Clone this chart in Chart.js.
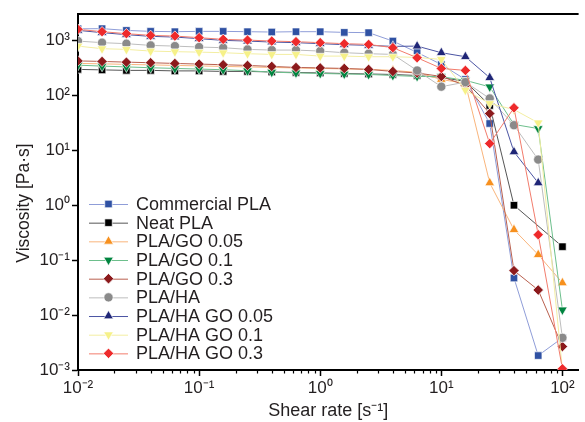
<!DOCTYPE html>
<html>
<head>
<meta charset="utf-8">
<script src="https://cdn.jsdelivr.net/npm/chart.js@4/dist/chart.umd.min.js"></script>
<style>
  html, body { margin: 0; padding: 0; background: #ffffff; }
  #wrap { width: 585px; height: 422px; }
</style>
</head>
<body>
<div id="wrap"><canvas id="chart" width="585" height="422"></canvas></div>
<script>
// Shear rate sweep: 5 points per decade, 0.01 to 100 1/s
const shearRate = [0.01, 0.0158, 0.0251, 0.0398, 0.0631, 0.1, 0.158, 0.251, 0.398, 0.631,
                   1, 1.58, 2.51, 3.98, 6.31, 10, 15.8, 25.1, 39.8, 63.1, 100];

// Viscosity [Pa·s] for each sample
const commercialPLA = [1600, 1615, 1500, 1440, 1420, 1440, 1440, 1420, 1400, 1420, 1420, 1380, 1365, 959, 597, 360, 192, 30.4, 0.047, 0.00183, 0.00385];
const neatPLA       = [293, 287, 281, 281, 275, 275, 269, 269, 263, 258, 253, 247, 242, 237, 227, 209, 177, 64.7, 0.99, null, 0.175];
const plaGO005      = [376, 370, 361, 354, 346, 339, 332, 325, 318, 311, 305, 299, 293, 281, 258, 192, 163, 2.53, 0.356, 0.125, 0.0384];
const plaGO01       = [350, 336, 325, 314, 305, 297, 289, 277, 261, 253, 247, 242, 237, 227, 218, 216, 185, 141, 29.2, 24.6, 0.0124];
const plaGO03       = [418, 409, 397, 387, 376, 366, 356, 346, 332, 318, 312, 305, 293, 269, 252, 218, 150, 46.2, 0.0642, 0.0285, 0.00267];
const plaHA         = [959, 897, 860, 800, 777, 746, 727, 677, 658, 658, 631, 589, 565, 549, 280, 142, 172, 86.7, 28.3, 6.71, 0.00385];
const plaHAGO005    = [1502, 1364, 1254, 1168, 1134, 1061, 987, 959, 920, 897, 860, 825, 801, 768, 777, 589, 498, 207, 9.27, 2.53, null];
const plaHAGO01     = [777, 697, 677, 631, 615, 604, 589, 565, 549, 549, 511, 511, 498, 498, 484, 445, 123, 70.3, 54.5, 31.3, 0.001];
const plaHAGO03     = [1567, 1422, 1308, 1218, 1183, 1106, 1030, 1000, 959, 935, 897, 860, 835, 727, 478, 305, 281, 13.1, 58.7, 0.289, 0.00105];

const seriesNames = ['Commercial PLA', 'Neat PLA', 'PLA/GO 0.05', 'PLA/GO 0.1', 'PLA/GO 0.3',
                     'PLA/HA', 'PLA/HA GO 0.05', 'PLA/HA GO 0.1', 'PLA/HA GO 0.3'];
const seriesValues = [commercialPLA, neatPLA, plaGO005, plaGO01, plaGO03,
                      plaHA, plaHAGO005, plaHAGO01, plaHAGO03];

// Axis ticks
const xTickValues = [0.01, 0.1, 1, 10, 100];
const xTickLabels = ['10\u207B\u00B2', '10\u207B\u00B9', '10\u2070', '10\u00B9', '10\u00B2'];
const yTickValues = [0.001, 0.01, 0.1, 1, 10, 100, 1000];
const yTickLabels = ['10\u207B\u00B3', '10\u207B\u00B2', '10\u207B\u00B9', '10\u2070', '10\u00B9', '10\u00B2', '10\u00B3'];
const yTitle = 'Viscosity [Pa\u00B7s]';
const xTitle = 'Shear rate [s\u207B\u00B9]';

const FONT = "'Liberation Sans', Arial, Helvetica, sans-serif";
const TEXT = '#231F20';

// marker fill, connecting line colour, marker shape
const looks = [
  { fill: '#2F51A3', line: '#8F9DD8', shape: 'rect',     rot: 0,   r: 5.3 },
  { fill: '#000000', line: '#555555', shape: 'rect',     rot: 0,   r: 5.3 },
  { fill: '#F7901E', line: '#F9B57C', shape: 'triangle', rot: 0,   r: 5.6 },
  { fill: '#00843F', line: '#6DBF8C', shape: 'triangle', rot: 180, r: 5.6 },
  { fill: '#8C1A1C', line: '#B9604F', shape: 'rectRot',  rot: 0,   r: 5.2 },
  { fill: '#8A8A8A', line: '#BDBDBD', shape: 'circle',   rot: 0,   r: 4.6 },
  { fill: '#1F2677', line: '#4B54A3', shape: 'triangle', rot: 0,   r: 5.6 },
  { fill: '#F6F189', line: '#F3EEA2', shape: 'triangle', rot: 180, r: 5.6 },
  { fill: '#EE2A2B', line: '#F27C6C', shape: 'rectRot',  rot: 0,   r: 5.2 }
];

const datasets = seriesValues.map((vals, k) => ({
  label: seriesNames[k],
  data: vals.map((v, i) => ({ x: shearRate[i], y: v })),
  borderColor: looks[k].line,
  borderWidth: 1,
  backgroundColor: looks[k].fill,
  pointBackgroundColor: looks[k].fill,
  pointBorderColor: 'rgba(255,255,255,0.85)',
  pointBorderWidth: 0.8,
  pointStyle: looks[k].shape,
  pointRotation: looks[k].rot,
  pointRadius: looks[k].r,
  pointHoverRadius: looks[k].r,
  spanGaps: true,
  tension: 0,
  clip: 0,
  order: seriesNames.length - 1 - k
}));

// Minor ticks on the shear-rate axis, the top frame line and the vertical axis title
const framePlugin = {
  id: 'frame',
  afterDraw(chart) {
    const { ctx, chartArea } = chart;
    const xs = chart.scales.x;
    ctx.save();
    ctx.strokeStyle = '#000';
    ctx.lineWidth = 1.2;
    for (let d = -2; d <= 2; d++) {
      for (let m = 2; m <= 9; m++) {
        const v = m * Math.pow(10, d);
        if (v < xs.min || v > xs.max) continue;
        const px = Math.round(xs.getPixelForValue(v)) + 0.5;
        ctx.beginPath();
        ctx.moveTo(px, chartArea.bottom);
        ctx.lineTo(px, chartArea.bottom + 3.5);
        ctx.stroke();
      }
    }
    ctx.lineWidth = 2;
    ctx.beginPath();
    ctx.moveTo(chartArea.left - 1, chartArea.top);
    ctx.lineTo(chartArea.right, chartArea.top);
    ctx.stroke();

    ctx.translate(24, 203);
    ctx.rotate(-Math.PI / 2);
    ctx.fillStyle = TEXT;
    ctx.font = '17.5px ' + FONT;
    ctx.textAlign = 'center';
    ctx.textBaseline = 'middle';
    ctx.fillText(yTitle, 0, 0);
    ctx.restore();
  }
};

// Legend inside the plot: a short line with the marker in its middle
const legendPlugin = {
  id: 'innerLegend',
  afterDraw(chart) {
    const { ctx } = chart;
    const x0 = 89, x1 = 128, xm = 108.5, xt = 136, y0 = 204, step = 18.67;
    ctx.save();
    chart.data.datasets.forEach((ds, k) => {
      const y = y0 + k * step;
      ctx.strokeStyle = ds.borderColor;
      ctx.lineWidth = 1;
      ctx.beginPath();
      ctx.moveTo(x0, y + 0.5);
      ctx.lineTo(x1, y + 0.5);
      ctx.stroke();
      ctx.fillStyle = ds.pointBackgroundColor;
      ctx.strokeStyle = ds.pointBorderColor;
      ctx.lineWidth = ds.pointBorderWidth;
      Chart.helpers.drawPoint(ctx, {
        pointStyle: ds.pointStyle,
        rotation: ds.pointRotation,
        radius: ds.pointRadius,
        borderWidth: ds.pointBorderWidth
      }, xm, y);
      ctx.fillStyle = TEXT;
      ctx.font = '18px ' + FONT;
      ctx.textAlign = 'left';
      ctx.textBaseline = 'middle';
      ctx.fillText(ds.label, xt, y + 1);
    });
    ctx.restore();
  }
};

new Chart(document.getElementById('chart'), {
  type: 'line',
  data: { datasets },
  plugins: [framePlugin, legendPlugin],
  options: {
    responsive: false,
    animation: false,
    devicePixelRatio: 1,
    layout: { padding: { top: 14, right: 0, left: 0, bottom: 0 } },
    plugins: { legend: { display: false }, tooltip: { enabled: false } },
    scales: {
      x: {
        type: 'logarithmic',
        position: 'bottom',
        min: 0.01,
        max: 136,
        afterBuildTicks: s => { s.ticks = xTickValues.map(v => ({ value: v, major: true })); },
        afterFit: s => { s.height = 52; },
        ticks: {
          callback: (v, i) => xTickLabels[i],
          font: { family: FONT, size: 17 },
          color: TEXT,
          padding: 2,
          maxRotation: 0,
          autoSkip: false
        },
        grid: { drawOnChartArea: false, drawTicks: true, tickLength: 6, tickColor: '#000', tickWidth: 1.5 },
        border: { display: true, color: '#000', width: 2 },
        title: {
          display: true,
          text: xTitle,
          font: { family: FONT, size: 18 },
          color: TEXT,
          padding: { top: 0, bottom: 0 }
        }
      },
      y: {
        type: 'logarithmic',
        position: 'left',
        min: 0.001,
        max: 2980,
        afterBuildTicks: s => { s.ticks = yTickValues.map(v => ({ value: v, major: true })); },
        afterFit: s => { s.width = 78; },
        ticks: {
          callback: (v, i) => yTickLabels[i],
          font: { family: FONT, size: 17 },
          color: TEXT,
          padding: 2,
          autoSkip: false
        },
        grid: { drawOnChartArea: false, drawTicks: true, tickLength: 6, tickColor: '#000', tickWidth: 1.5 },
        border: { display: true, color: '#000', width: 2 }
      }
    }
  }
});
</script>
</body>
</html>
